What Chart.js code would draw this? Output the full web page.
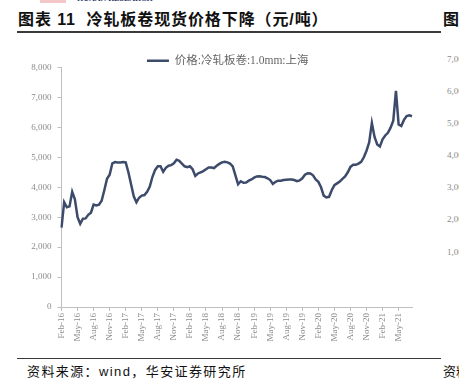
<!DOCTYPE html>
<html>
<head>
<meta charset="utf-8">
<script src="https://cdn.jsdelivr.net/npm/chart.js@4.4.0/dist/chart.umd.min.js"></script>
<style>
  html, body { margin:0; padding:0; background:#fff; }
  body { width:459px; height:380px; overflow:hidden; position:relative; }
  .abs { position:absolute; white-space:nowrap; }
  #title { left:18px; top:6px; font:bold 16px 'Liberation Sans','Noto Sans CJK SC',sans-serif; color:#111; letter-spacing:0.9px; }
  #rule1 { left:17px; top:31px; width:424px; height:1.5px; background:#3a3a3a; }
  #rule2 { left:17px; top:358px; width:424px; height:1px; background:#3a3a3a; }
  #src { left:27px; top:361px; font:13px 'Liberation Sans','Noto Sans CJK SC',sans-serif; color:#111; letter-spacing:1.4px; }
  #title2 { left:443px; top:6px; font:bold 16px 'Noto Sans CJK SC',sans-serif; color:#111; }
  #src2 { left:443px; top:361px; font:13px 'Noto Sans CJK SC',sans-serif; color:#111; }
  #brand { left:77px; top:-6px; font:bold 8px 'Liberation Serif',serif; color:#2a3a66; }
  #logo { left:40px; top:0px; width:26px; height:3px; background:#f3c7c7; }
  .ry { left:447px; font:9px 'Liberation Serif',serif; color:#8c8c8c; }
  #c { position:absolute; left:0; top:0; }
</style>
</head>
<body>
<div class="abs" id="logo"></div>
<div class="abs" id="brand">HUAAN RESEARCH</div>
<div class="abs" id="title">图表 11&nbsp; 冷轧板卷现货价格下降（元/吨）</div>
<div class="abs" id="title2">图表</div>
<div class="abs" id="rule1"></div>
<div class="abs ry" style="top:54px">7,000</div>
<div class="abs ry" style="top:86px">6,000</div>
<div class="abs ry" style="top:118px">5,000</div>
<div class="abs ry" style="top:150px">4,000</div>
<div class="abs ry" style="top:182px">3,000</div>
<div class="abs ry" style="top:214px">2,000</div>
<div class="abs ry" style="top:247px">1,000</div>
<div class="abs" id="rule2"></div>
<div class="abs" id="src">资料来源：wind，华安证券研究所</div>
<div class="abs" id="src2">资料来源</div>
<canvas id="c" width="459" height="380"></canvas>
<script>
// semi-monthly observation labels, Feb-2016 .. Jul-2021
const monthNames = ["Jan","Feb","Mar","Apr","May","Jun","Jul","Aug","Sep","Oct","Nov","Dec"];
const categories = [];
for (let y = 2016; y <= 2021; y++) {
  for (let m = 0; m < 12; m++) {
    if (y === 2016 && m < 1) continue;
    if (y === 2021 && m > 6) continue;
    const yy = String(y).slice(2);
    categories.push(monthNames[m] + "-" + yy + " H1");
    categories.push(monthNames[m] + "-" + yy + " H2");
  }
}

const seriesName = "价格:冷轧板卷:1.0mm:上海";
const priceValues = [
  2650,3500,3330,3360,3850,3600,3000,2780,2950,2960,
  3080,3150,3420,3390,3420,3550,3900,4280,4420,4800,
  4840,4830,4830,4840,4830,4500,4100,3700,3500,3650,
  3720,3740,3850,4020,4350,4580,4700,4700,4520,4650,
  4720,4740,4800,4920,4880,4790,4700,4670,4700,4600,
  4380,4460,4500,4540,4600,4660,4660,4640,4720,4780,
  4830,4850,4830,4790,4700,4400,4100,4200,4150,4160,
  4220,4260,4320,4360,4370,4350,4340,4300,4240,4110,
  4180,4220,4220,4240,4250,4260,4260,4240,4200,4230,
  4300,4420,4470,4460,4400,4260,4180,4000,3720,3660,
  3680,3900,4070,4130,4190,4280,4360,4500,4680,4750,
  4750,4790,4850,5000,5220,5500,6150,5680,5430,5360,
  5600,5730,5820,5990,6220,7220,6100,6050,6250,6380,
  6400,6370
];
const tickLabels = ["Feb-16","May-16","Aug-16","Nov-16","Feb-17","May-17","Aug-17","Nov-17",
  "Feb-18","May-18","Aug-18","Nov-18","Feb-19","May-19","Aug-19","Nov-19",
  "Feb-20","May-20","Aug-20","Nov-20","Feb-21","May-21"];
const yTicks = { min: 0, max: 8000, step: 1000 };

const lineColor = '#3d4b6b';
const axisColor = '#bfbfbf';
const labelColor = '#8c8c8c';
const serif = "'Liberation Serif','Noto Sans CJK SC',serif";

const shiftLegend = {
  id: 'shiftLegend',
  afterLayout(chart) {
    const l = chart.legend;
    if (!l) return;
    l.left += 16; l.right += 16;
    l.top += 9; l.bottom += 9;
  }
};

new Chart(document.getElementById('c'), {
  type: 'line',
  data: {
    labels: categories,
    datasets: [{
      label: seriesName,
      data: priceValues,
      borderColor: lineColor,
      backgroundColor: lineColor,
      borderWidth: 2.5,
      pointRadius: 0,
      tension: 0,
      fill: false
    }]
  },
  plugins: [shiftLegend],
  options: {
    responsive: false,
    animation: false,
    devicePixelRatio: 1,
    layout: { padding: { left: 11.5, right: 47, top: 42, bottom: 28 } },
    plugins: {
      tooltip: { enabled: false },
      legend: {
        display: true,
        position: 'top',
        labels: {
          usePointStyle: true,
          pointStyle: 'line',
          pointStyleWidth: 22,
          boxHeight: 8,
          padding: 4,
          color: '#666666',
          font: { family: serif, size: 11.5 }
        }
      }
    },
    scales: {
      x: {
        type: 'category',
        afterFit: s => { s.height = 45; },
        border: { display: true, color: axisColor, width: 1 },
        grid: {
          display: true,
          drawOnChartArea: false,
          drawTicks: true,
          tickLength: 4,
          color: ctx => (ctx.index % 6 === 0 && ctx.index / 6 < tickLabels.length) ? axisColor : 'rgba(0,0,0,0)'
        },
        ticks: {
          autoSkip: false,
          minRotation: 90,
          maxRotation: 90,
          padding: 2,
          color: labelColor,
          font: { family: serif, size: 9 },
          callback: (v, i) => (i % 6 === 0 && i / 6 < tickLabels.length) ? tickLabels[i / 6] : ''
        }
      },
      y: {
        min: yTicks.min,
        max: yTicks.max,
        afterFit: s => { s.width = 50; },
        border: { display: true, color: axisColor, width: 1 },
        grid: { display: true, drawOnChartArea: false, tickLength: 4, color: axisColor },
        ticks: {
          stepSize: yTicks.step,
          padding: 6,
          color: labelColor,
          font: { family: serif, size: 9 },
          callback: v => v.toLocaleString('en-US')
        }
      }
    }
  }
});
</script>
</body>
</html>
